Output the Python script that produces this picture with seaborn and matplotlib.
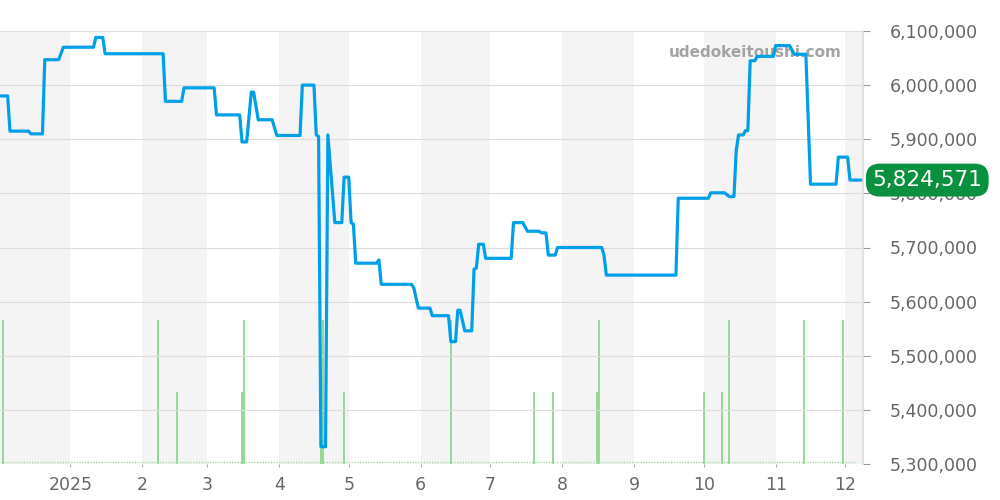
import matplotlib
matplotlib.use('Agg')
from matplotlib import pyplot as plt
import matplotlib.ticker as mticker
import pandas as pd
import seaborn as sns

# price history (corner points of the stepped line)
price_dates = [
    '2024-12-02', '2024-12-05', '2024-12-06', '2024-12-14', '2024-12-15', '2024-12-20',
    '2024-12-21', '2024-12-27', '2024-12-29', '2025-01-11', '2025-01-12', '2025-01-15',
    '2025-01-16', '2025-02-10', '2025-02-11', '2025-02-18', '2025-02-19', '2025-03-04',
    '2025-03-05', '2025-03-15', '2025-03-16', '2025-03-18', '2025-03-20', '2025-03-21',
    '2025-03-23', '2025-03-29', '2025-03-31', '2025-04-10', '2025-04-11', '2025-04-16',
    '2025-04-17', '2025-04-18', '2025-04-19', '2025-04-21', '2025-04-22', '2025-04-25',
    '2025-04-28', '2025-04-29', '2025-05-01', '2025-05-02', '2025-05-03', '2025-05-04',
    '2025-05-13', '2025-05-14', '2025-05-15', '2025-05-28', '2025-05-29', '2025-05-31',
    '2025-06-05', '2025-06-06', '2025-06-13', '2025-06-14', '2025-06-16', '2025-06-17',
    '2025-06-18', '2025-06-20', '2025-06-23', '2025-06-24', '2025-06-25', '2025-06-26',
    '2025-06-28', '2025-06-29', '2025-07-10', '2025-07-11', '2025-07-15', '2025-07-17',
    '2025-07-22', '2025-07-23', '2025-07-25', '2025-07-26', '2025-07-29', '2025-07-30',
    '2025-08-18', '2025-08-19', '2025-08-20', '2025-09-19', '2025-09-20', '2025-10-03',
    '2025-10-04', '2025-10-10', '2025-10-12', '2025-10-14', '2025-10-15', '2025-10-16',
    '2025-10-18', '2025-10-19', '2025-10-20', '2025-10-21', '2025-10-23', '2025-10-24',
    '2025-10-31', '2025-11-01', '2025-11-07', '2025-11-09', '2025-11-14', '2025-11-16',
    '2025-11-27', '2025-11-28', '2025-12-02', '2025-12-03', '2025-12-08',
]
prices = [
    5980000, 5980000, 5915000, 5915000, 5910000, 5910000,
    6047000, 6047000, 6070000, 6070000, 6088000, 6088000,
    6058000, 6058000, 5970000, 5970000, 5995000, 5995000,
    5945000, 5945000, 5895000, 5895000, 5987000, 5987000,
    5936000, 5936000, 5907000, 5907000, 6000000, 6000000,
    5908000, 5905000, 5332000, 5332000, 5908000, 5746000,
    5746000, 5830000, 5830000, 5746000, 5743000, 5671000,
    5671000, 5677000, 5632000, 5632000, 5626000, 5588000,
    5588000, 5574000, 5574000, 5526000, 5526000, 5584000,
    5584000, 5546000, 5546000, 5660000, 5662000, 5706000,
    5706000, 5680000, 5680000, 5746000, 5746000, 5730000,
    5730000, 5727000, 5727000, 5686000, 5686000, 5700000,
    5700000, 5686000, 5649000, 5649000, 5791000, 5791000,
    5801000, 5801000, 5794000, 5794000, 5880000, 5908000,
    5908000, 5916000, 5916000, 6045000, 6045000, 6053000,
    6053000, 6073000, 6073000, 6057000, 6057000, 5817000,
    5817000, 5867000, 5867000, 5824571, 5824571,
]

# trade counts
volume_dates = [
    '2024-12-03', '2025-02-08', '2025-02-16', '2025-03-16', '2025-03-17', '2025-04-19',
    '2025-04-20', '2025-04-29', '2025-06-14', '2025-07-20', '2025-07-28', '2025-08-16',
    '2025-08-17', '2025-10-01', '2025-10-09', '2025-10-12', '2025-11-13', '2025-11-30',
]
volumes = [2, 2, 1, 1, 2, 1, 2, 1, 2, 1, 1, 1, 2, 1, 1, 2, 2, 2]
volume_baseline = ['2024-12-02', '2025-12-05']

month_ticks = ['2025-01-01', '2025-02-01', '2025-03-01', '2025-04-01', '2025-05-01', '2025-06-01',
               '2025-07-01', '2025-08-01', '2025-09-01', '2025-10-01', '2025-11-01', '2025-12-01']
month_labels = ['2025', '2', '3', '4', '5', '6', '7', '8', '9', '10', '11', '12']
shaded_months = [('2024-12-01', '2025-01-01'), ('2025-02-01', '2025-03-01'), ('2025-04-01', '2025-05-01'),
                 ('2025-06-01', '2025-07-01'), ('2025-08-01', '2025-09-01'), ('2025-10-01', '2025-11-01'),
                 ('2025-12-01', '2026-01-01')]
price_ticks = list(range(5300000, 6100001, 100000))
last_price = 5824571
watermark = 'udedokeitoushi.com'

sns.set_theme(style='white')
plt.rcParams['font.family'] = ['DejaVu Sans']

fig = plt.figure(figsize=(10, 5), dpi=100)
ax = fig.add_axes([0, 0.072, 0.8633, 0.866])
ax_vol = ax.twinx()
ax.set_zorder(2)
ax_vol.set_zorder(1)
ax.patch.set_visible(False)

# alternating month shading and volume bars (behind price line)
for start, end in shaded_months:
    ax_vol.axvspan(pd.Timestamp(start), pd.Timestamp(end), color='#f4f4f4', lw=0, zorder=0)
ax_vol.vlines(pd.to_datetime(volume_dates), 0, volumes, colors='#8ed48e', lw=1.3, zorder=2)
ax_vol.hlines(0.03, pd.Timestamp(volume_baseline[0]), pd.Timestamp(volume_baseline[1]),
              colors='#a6dca6', linestyles=(0, (1, 1)), lw=1, zorder=2)
ax_vol.set_ylim(0, 6.0)
ax_vol.set_yticks([])
ax_vol.text(0.875, 0.951, watermark, transform=ax_vol.transAxes, ha='center', va='center',
            fontsize=11, fontweight='bold', color='#a3a3a3', zorder=3)

# price line
sns.lineplot(x=pd.to_datetime(price_dates), y=prices, ax=ax, color='#00a0e9', lw=2.3,
             estimator=None, sort=False)

ax.set_xlim(pd.Timestamp('2024-12-01 16:48'), pd.Timestamp('2025-12-08 18:00'))
ax.set_ylim(5300000, 6100000)
ax.set_yticks(price_ticks)
ax.yaxis.set_major_formatter(mticker.StrMethodFormatter('{x:,.0f}'))
ax.yaxis.tick_right()
ax.set_xticks(pd.to_datetime(month_ticks))
ax.set_xticklabels(month_labels)
ax.set_xlabel('')
ax.set_ylabel('')
ax.grid(axis='y', color='#dddddd', lw=0.8)
ax.grid(axis='x', visible=False)

ax.tick_params(axis='y', right=True, left=False, length=5, width=0.8, color='#999999',
               labelcolor='#666666', labelsize=12.5, pad=14)
ax.tick_params(axis='x', bottom=True, length=2.5, width=0.8, color='#aaaaaa',
               labelcolor='#666666', labelsize=12.5, pad=6)

for axis in (ax, ax_vol):
    for spine in axis.spines.values():
        spine.set_visible(False)
ax.spines['right'].set_visible(True)
ax.spines['right'].set_color('#dddddd')

# current price badge
ax.annotate(f'{last_price:,}', xy=(1, last_price), xycoords=('axes fraction', 'data'),
            xytext=(6.5, 0), textcoords='offset points', ha='left', va='center',
            fontsize=15.5, color='white', annotation_clip=False, zorder=5,
            bbox=dict(boxstyle='round,pad=0.3,rounding_size=0.65', fc='#0a9140', ec='none'))

fig.savefig('out.png', dpi=100)
plt.close(fig)
